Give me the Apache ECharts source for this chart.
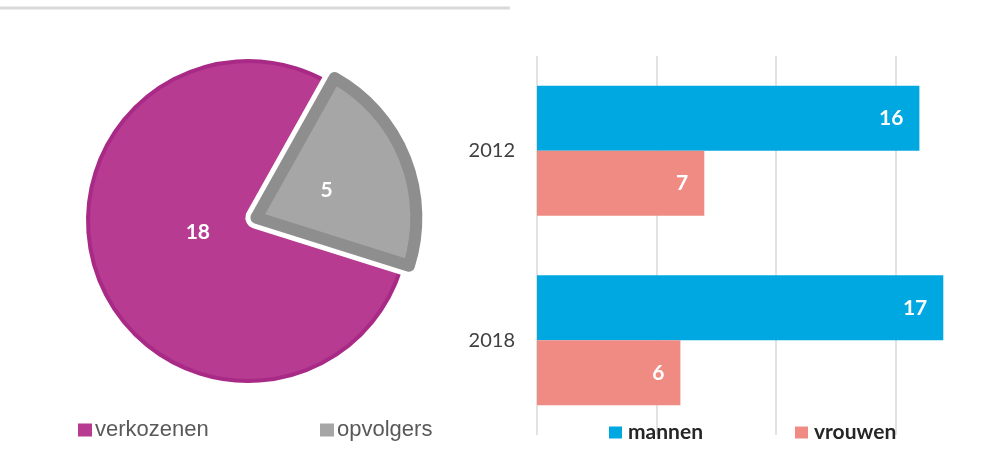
<!DOCTYPE html>
<html>
<head>
<meta charset="utf-8">
<script src="https://cdn.jsdelivr.net/npm/echarts@6/dist/echarts.min.js"></script>
<style>
  html, body { margin: 0; padding: 0; background: #fff; }
  #chart { width: 1000px; height: 471px; }
</style>
</head>
<body>
<div id="chart"></div>
<script>
// pie: gekozen leden vs opvolgers
const pieNames = ['verkozenen', 'opvolgers']
const pieValues = [18, 5]
const pieColors = ['#b73b91', '#a6a6a6']
const pieBorders = ['#a82a86', '#8e8e8e']

// bars: mannen / vrouwen per jaar
const years = ['2012', '2018']
const mannen = [16, 17]
const vrouwen = [7, 6]

const myChart = echarts.init(document.getElementById('chart'))

const pieLegend = (name, left) => ({
  data: [name],
  left: left, top: 419, padding: 0,
  icon: 'rect', itemWidth: 14, itemHeight: 13,
  itemStyle: { borderWidth: 0 },
  textStyle: { fontFamily: 'Liberation Sans', fontSize: 22, color: '#595959', lineHeight: 22, padding: [0, 0, 0, -2] }
})
const barLegend = (name, left) => ({
  data: [name],
  left: left, top: 422, padding: 0,
  icon: 'rect', itemWidth: 13, itemHeight: 12,
  itemStyle: { borderWidth: 0 },
  textStyle: { fontFamily: 'Lato', fontWeight: 'bold', fontSize: 21, color: '#262626', lineHeight: 21, padding: [0, 0, 0, 1] }
})

const pieLabel = {
  show: true, position: 'inside',
  color: '#fff', fontFamily: 'Lato', fontWeight: 'bold', fontSize: 21,
  formatter: (params) => `${params.value}`
}
const hidden = { color: 'transparent', borderWidth: 0 }

// drie lagen: volledige taart, witte rand om het uitgetrokken stuk, grijs stuk erboven
function pieLayer(z, styleFor, labelFor) {
  return {
    type: 'pie',
    z: z,
    center: [248, 221],
    radius: [0, 160],
    startAngle: 342.5,
    clockwise: true,
    selectedMode: 'single',
    selectedOffset: 9,
    emphasis: { disabled: true },
    labelLine: { show: false },
    labelLayout: (params) => {
      if (params.dataIndex === 0) return { dx: 27, dy: -19 }
      return { dx: -7, dy: 3 }
    },
    data: pieNames.map((name, i) => ({
      name: name,
      value: pieValues[i],
      selected: i === 1,
      itemStyle: styleFor(i),
      label: labelFor(i) ? pieLabel : { show: false }
    }))
  }
}

const option = {
  animation: false,
  color: ['#00a8e1', '#f08b84'],
  graphic: [
    {
      type: 'line',
      shape: { x1: 0, y1: 8, x2: 510, y2: 8 },
      style: { stroke: '#d9d9d9', lineWidth: 3 }
    }
  ],
  legend: [
    pieLegend(pieNames[0], 78),
    pieLegend(pieNames[1], 320),
    barLegend('mannen', 609),
    barLegend('vrouwen', 795)
  ],
  grid: { left: 537, top: 56, width: 478, bottom: 36, outerBoundsMode: 'none' },
  xAxis: {
    type: 'value',
    min: 0, max: 20, interval: 5,
    axisLabel: { show: false },
    axisLine: { show: false },
    axisTick: { show: false },
    splitLine: { lineStyle: { color: '#d9d9d9', width: 1.5 } }
  },
  yAxis: {
    type: 'category',
    inverse: true,
    data: years,
    axisLine: { show: false },
    axisTick: { show: false },
    axisLabel: { fontFamily: 'Lato', fontSize: 20, color: '#404040', margin: 22 }
  },
  series: [
    {
      name: 'mannen',
      type: 'bar',
      data: mannen,
      barWidth: 65,
      barGap: '0%',
      itemStyle: { color: '#00a8e1' },
      label: {
        show: true, position: 'insideRight', distance: 16,
        color: '#fff', fontFamily: 'Lato', fontWeight: 'bold', fontSize: 21
      }
    },
    {
      name: 'vrouwen',
      type: 'bar',
      data: vrouwen,
      barWidth: 65,
      barGap: '0%',
      itemStyle: { color: '#f08b84' },
      label: {
        show: true, position: 'insideRight', distance: 16,
        color: '#fff', fontFamily: 'Lato', fontWeight: 'bold', fontSize: 21
      }
    },
    pieLayer(2,
      (i) => ({ color: pieColors[i], borderColor: pieBorders[i], borderWidth: i === 0 ? 4 : 0, borderJoin: 'round' }),
      (i) => i === 0),
    pieLayer(3,
      (i) => i === 1 ? { color: '#fff', borderColor: '#fff', borderWidth: 22, borderJoin: 'round' } : hidden,
      () => false),
    pieLayer(4,
      (i) => i === 1 ? { color: pieColors[1], borderColor: pieBorders[1], borderWidth: 12, borderJoin: 'round' } : hidden,
      (i) => i === 1)
  ]
}
option && myChart.setOption(option)
</script>
</body>
</html>
